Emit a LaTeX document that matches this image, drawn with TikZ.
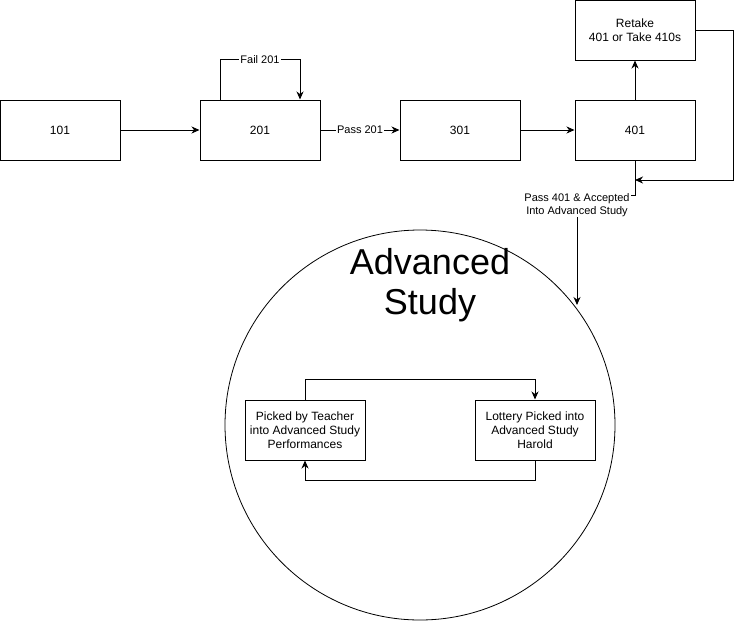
\documentclass[tikz,border=0pt]{standalone}
\usepackage{fontspec}
\setmainfont{Liberation Sans}
\usetikzlibrary{arrows.meta}
\begin{document}
\begin{tikzpicture}[x=1pt,y=-1pt,
  proc/.style={draw, line width=1pt, minimum width=120pt, minimum height=60pt, inner sep=0pt, align=center, font=\fontsize{12}{14}\selectfont},
  arr/.style={line width=1pt, -{Stealth[length=8pt,width=7pt,inset=2.5pt]}},
  lbl/.style={fill=white, inner sep=1pt, align=center, font=\fontsize{11}{12.5}\selectfont}]
\useasboundingbox (0,0) rectangle (741,621);
\node[draw, circle, line width=0.8pt, minimum size=390pt, inner sep=0pt] (adv) at (420,425) {};
\node[font=\fontsize{36}{40}\selectfont, align=center, inner sep=0pt] (advt) at (430,285) {Advanced\\Study};
\node[proc] (b101) at (60,130) {101};
\node[proc] (b201) at (260,130) {201};
\node[proc] (b301) at (460,130) {301};
\node[proc] (b401) at (635,130) {401};
\node[proc] (ret) at (635,30) {Retake\\401 or Take 410s};
\node[proc] (pick) at (305,430) {Picked by Teacher\\into Advanced Study\\Performances};
\node[proc] (lott) at (535,430) {Lottery Picked into\\Advanced Study\\Harold};
\coordinate (c1) at (733,30);
\coordinate (c2) at (635,180);
\coordinate (c3) at (577,195);
\coordinate (cin) at (577,305);
\draw[arr] (b101) -- (b201);
\draw[arr] (b201.east) -- node[lbl]{Pass 201} (b301.west);
\draw[arr] (b301) -- (b401);
\draw[arr] ([xshift=-40pt]b201.north) -- ++(0,-40) -| node[lbl, pos=0.25]{Fail 201} ([xshift=40pt]b201.north);
\draw[arr] (b401) -- (ret);
\draw[arr] (ret.east) -- (c1) |- (c2);
\draw[arr] (b401.south) |- (c3) -- (cin);
\node[lbl] (plbl) at (577,205) {Pass 401 \& Accepted\\Into Advanced Study};
\draw[arr] (pick.north) -- ++(0,-20) -| (lott.north);
\draw[arr] (lott.south) -- ++(0,20) -| (pick.south);
\end{tikzpicture}
\end{document}
